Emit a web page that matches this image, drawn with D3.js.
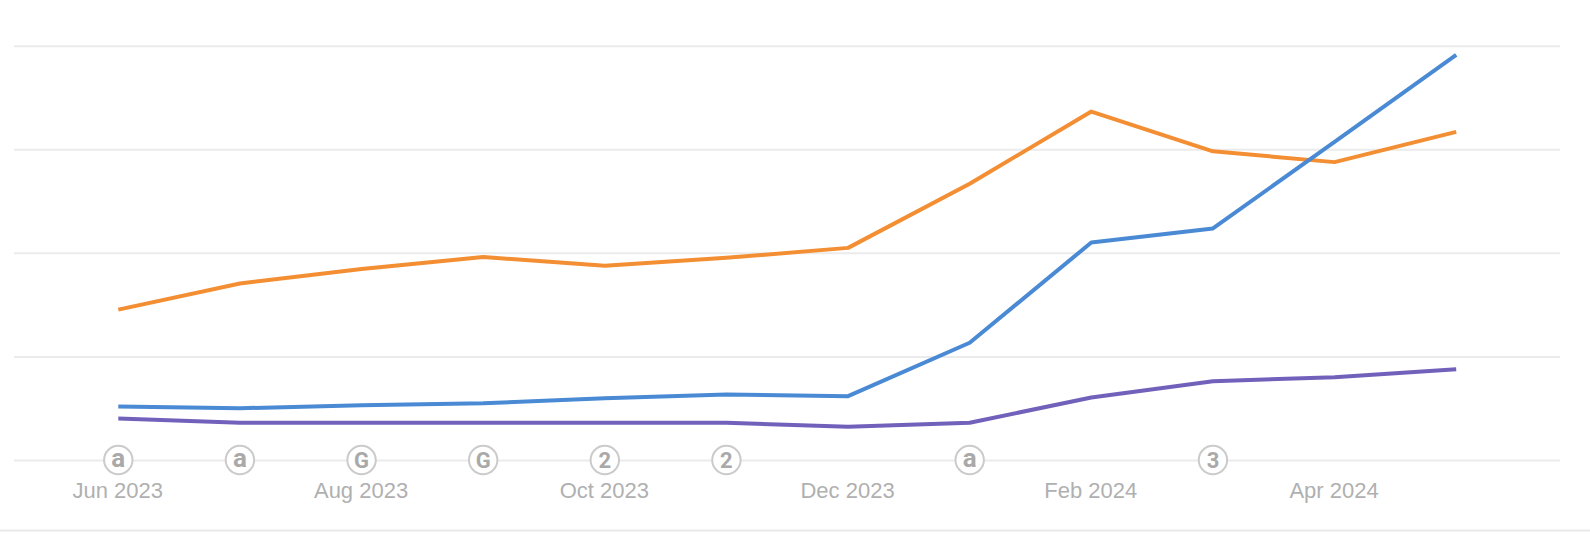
<!DOCTYPE html>
<html>
<head>
<meta charset="utf-8">
<script src="https://cdn.jsdelivr.net/npm/d3@7"></script>
<style>
html,body{margin:0;padding:0;background:#fff;overflow:hidden}
svg{display:block}
</style>
</head>
<body>
<svg id="c" width="1590" height="534"></svg>
<script>
const months = ["Jun 2023","Jul 2023","Aug 2023","Sep 2023","Oct 2023","Nov 2023","Dec 2023","Jan 2024","Feb 2024","Mar 2024","Apr 2024","May 2024"];
const tickLabels = ["Jun 2023","Aug 2023","Oct 2023","Dec 2023","Feb 2024","Apr 2024"];
const gridValues = [0,25,50,75,100];
const orange = [36.3,42.6,46.1,49,46.9,48.8,51.2,66.7,84.1,74.5,71.9,79.2];
const blue = [12.9,12.5,13.2,13.7,14.9,15.8,15.4,28.3,52.5,55.9,76.8,97.8];
const purple = [10,9,9,9,9,9,8,9,15.1,19,20,21.9];
const annotationMonths = ["Jun 2023","Jul 2023","Aug 2023","Sep 2023","Oct 2023","Nov 2023","Jan 2024","Mar 2024"];
const annotationGlyphs = ["a","a","G","G","2","2","a","3"];

const svg = d3.select("#c");
const x = d3.scalePoint().domain(months).range([118.3,1456.2]);
const y = d3.scaleLinear().domain([0,100]).range([460,45.7]);
const font = "'Liberation Sans', Arial, sans-serif";

// bottom rule
svg.append("line").attr("x1",0).attr("x2",1590).attr("y1",530.5).attr("y2",530.5)
  .attr("stroke","#e9e9e9").attr("stroke-width",2);

// grid
const gridG = svg.append("g").attr("transform","translate(14,0)")
  .call(d3.axisRight(y).tickValues(gridValues).tickSize(1546).tickFormat(""));
gridG.select(".domain").remove();
gridG.selectAll("line").attr("stroke","#ebebeb").attr("stroke-width",2);

// x axis labels
const xG = svg.append("g").attr("transform","translate(-1,460)")
  .call(d3.axisBottom(x).tickValues(tickLabels).tickSize(0).tickPadding(0));
xG.select(".domain").remove();
xG.selectAll("text").attr("y",38).attr("dy",0)
  .attr("font-family",font).attr("font-size",22).attr("fill","#b0b0b0");

// lines
const line = d3.line().x((d,i)=>x(months[i])).y(d=>y(d)).curve(d3.curveLinear);
[[orange,"#f38e33"],[blue,"#4a8ad4"],[purple,"#7161bb"]].forEach(([vals,col])=>{
  svg.append("path").datum(vals).attr("d",line).attr("fill","none")
    .attr("stroke",col).attr("stroke-width",4).attr("stroke-linejoin","round");
});

// annotations
const ann = svg.append("g").selectAll("g").data(annotationMonths).join("g")
  .attr("transform",d=>`translate(${x(d)},${y(0)})`);
ann.append("circle").attr("r",14.2).attr("fill","#fff").attr("stroke","#cbcbcb").attr("stroke-width",2);
ann.append("text").text((d,i)=>annotationGlyphs[i])
  .attr("text-anchor","middle")
  .attr("y",(d,i)=>annotationGlyphs[i]==="a"?7:7.8)
  .attr("font-family","Roboto, 'Liberation Sans', sans-serif").attr("font-weight",700)
  .attr("font-size",(d,i)=>annotationGlyphs[i]==="a"?26:22).attr("fill","#a9a9a9");
</script>
</body>
</html>
